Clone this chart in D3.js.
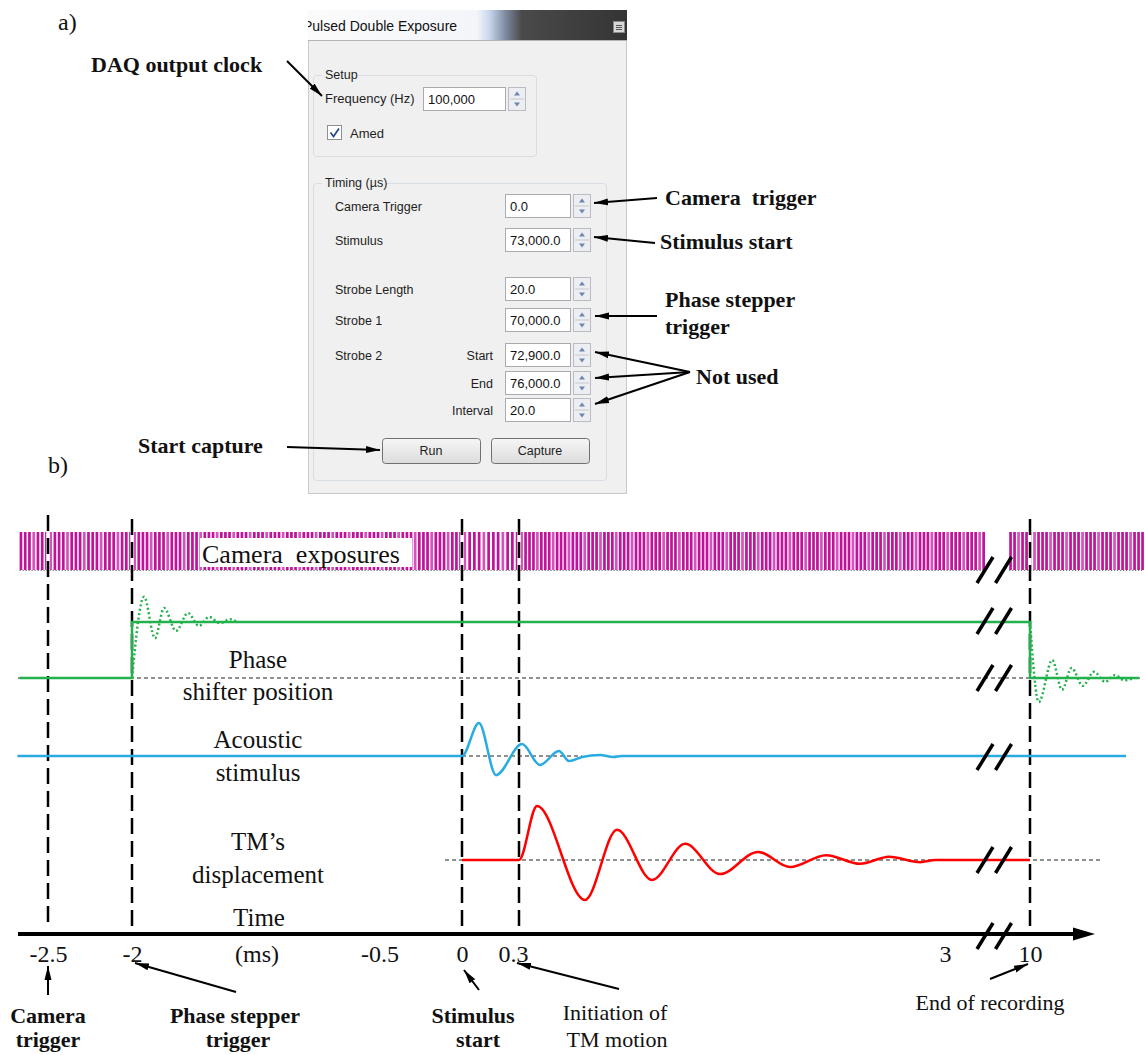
<!DOCTYPE html>
<html><head><meta charset="utf-8">
<script src="https://cdn.jsdelivr.net/npm/d3@7"></script>
<style>body{margin:0;background:#fff} svg{display:block}</style>
</head><body><svg id="c" width="1145" height="1055"></svg>
<script>
// ---------------- data ----------------
const tickValues = [-2.5, -2, -0.5, 0, 0.3, 3, 10];
const eventTimes = [-2.5, -2, 0, 0.3, 10];
const cameraSegments = [[-2.667, 3.24], [9.87, 10.71]];
const exposureInterval = 0.025;
const phaseStep = [[-2.667,0],[-2,0],[-2,1],[10,1],[10,0],[10.68,0]];
const phaseRingUp = [[-2,0],[-1.927,1.45],[-1.861,0.71],[-1.806,1.25],[-1.733,0.84],[-1.661,1.16],[-1.594,0.93],[-1.533,1.09],[-1.467,0.98],[-1.406,1.05],[-1.364,1.0]];
const phaseRingDown = [[10,1],[10.055,-0.43],[10.139,0.32],[10.2,-0.21],[10.26,0.18],[10.33,-0.14],[10.4,0.11],[10.47,-0.07],[10.53,0.05],[10.59,-0.04],[10.65,0]];
const acousticWave = [[-2.68,0],[0,0],[0.089,1.0],[0.179,-0.58],[0.319,0.36],[0.433,-0.27],[0.553,0.15],[0.617,-0.15],[0.7,-0.03],[0.814,0.03],[0.897,-0.03],[0.95,0],[10.6,0]];
const tmWave = [[0,0],[0.3,0],[0.414,1.0],[0.718,-0.74],[0.921,0.56],[1.143,-0.37],[1.353,0.30],[1.574,-0.26],[1.815,0.15],[2.018,-0.13],[2.246,0.09],[2.462,-0.07],[2.646,0.06],[2.843,-0.04],[2.938,0],[10,0]];
const dialogTitle = "Pulsed Double Exposure";
const setupFrequency = "100,000";
const dialogFields = [
  {label:"Camera Trigger", sub:"", value:"0.0"},
  {label:"Stimulus", sub:"", value:"73,000.0"},
  {label:"Strobe Length", sub:"", value:"20.0"},
  {label:"Strobe 1", sub:"", value:"70,000.0"},
  {label:"Strobe 2", sub:"Start", value:"72,900.0"},
  {label:"", sub:"End", value:"76,000.0"},
  {label:"", sub:"Interval", value:"20.0"}
];

// ---------------- setup ----------------
const svg = d3.select("#c");
const serif = "'Liberation Serif','Times New Roman',serif";
const sans = "'Liberation Sans',Arial,sans-serif";
const defs = svg.append("defs");

const x = d3.scaleLinear()
  .domain([-2.7,-2.5,-2,0,0.3,3,3.25,9.85,10,10.8])
  .range([14,48,132,462,519,945,985,1006,1030,1158]);
const yPhase = d3.scaleLinear().domain([0,1]).range([678,622]);
const yAc = d3.scaleLinear().domain([0,1]).range([756,723]);
const yTM = d3.scaleLinear().domain([0,1]).range([860,806]);

const mk = defs.append("marker").attr("id","ah").attr("viewBox","0 0 14 8")
  .attr("refX",14).attr("refY",4).attr("markerWidth",14).attr("markerHeight",8)
  .attr("markerUnits","userSpaceOnUse").attr("orient","auto");
mk.append("path").attr("d","M0,0.5 L14,4 L0,7.5 Z").attr("fill","#000");

function arrow(x1,y1,x2,y2){
  svg.append("line").attr("x1",x1).attr("y1",y1).attr("x2",x2).attr("y2",y2)
    .attr("stroke","#000").attr("stroke-width",2).attr("marker-end","url(#ah)");
}
function txt(t,xx,yy,size,opts={}){
  return svg.append("text").attr("x",xx).attr("y",yy).text(t)
    .attr("font-family",opts.family||serif).attr("font-size",size)
    .attr("font-weight",opts.bold?"bold":"normal")
    .attr("text-anchor",opts.anchor||"start").attr("fill",opts.fill||"#111")
    .style("white-space","pre");
}

// ---------------- panel a) dialog ----------------
const tg = defs.append("linearGradient").attr("id","tg").attr("gradientUnits","userSpaceOnUse")
  .attr("x1",308).attr("x2",627).attr("y1",0).attr("y2",0);
[[0,"#fbfbfb"],[0.53,"#f3f5f9"],[0.57,"#c6d5ec"],[0.62,"#7c889e"],[0.67,"#4a4a4a"],[1,"#343434"]]
  .forEach(s=>tg.append("stop").attr("offset",s[0]).attr("stop-color",s[1]));
const bg = defs.append("linearGradient").attr("id","bg").attr("x1",0).attr("x2",0).attr("y1",0).attr("y2",1);
bg.append("stop").attr("offset",0).attr("stop-color","#f6f6f6");
bg.append("stop").attr("offset",1).attr("stop-color","#dcdcdc");
defs.append("clipPath").attr("id","dclip").append("rect").attr("x",308).attr("y",8).attr("width",320).attr("height",490);

const dlg = svg.append("g").attr("clip-path","url(#dclip)");
dlg.append("rect").attr("x",308.5).attr("y",10.5).attr("width",318).attr("height",483).attr("fill","#f0f0f0").attr("stroke","#c9c9c9");
dlg.append("rect").attr("x",300).attr("y",10).attr("width",327).attr("height",30).attr("fill","url(#tg)");
dlg.append("line").attr("x1",308).attr("x2",627).attr("y1",40.5).attr("y2",40.5).attr("stroke","#b5b5b5");
dlg.append("text").attr("x",303).attr("y",31).text(dialogTitle).attr("font-family",sans).attr("font-size",14).attr("fill","#111");
dlg.append("rect").attr("x",613.5).attr("y",21.5).attr("width",11).attr("height",11).attr("fill","#d8d8d8").attr("stroke","#8a8a8a");
[25,27,29].forEach(yy=>dlg.append("line").attr("x1",616).attr("x2",622).attr("y1",yy+0.5).attr("y2",yy+0.5).attr("stroke","#555"));

function group(gx,gy,gw,gh,label,lw){
  dlg.append("rect").attr("x",gx+0.5).attr("y",gy+0.5).attr("width",gw).attr("height",gh).attr("rx",3)
    .attr("fill","none").attr("stroke","#d6dde3");
  dlg.append("rect").attr("x",gx+9).attr("y",gy-8).attr("width",lw).attr("height",14).attr("fill","#f0f0f0");
  dlg.append("text").attr("x",gx+12).attr("y",gy+4).text(label).attr("font-family",sans).attr("font-size",12.5).attr("fill","#1e1e1e");
}
function inputBox(ix,iy,iw,ih,val){
  dlg.append("rect").attr("x",ix+0.5).attr("y",iy+0.5).attr("width",iw).attr("height",ih).attr("fill","#fff").attr("stroke","#a9abb1");
  dlg.append("text").attr("x",ix+5).attr("y",iy+ih-6).text(val).attr("font-family",sans).attr("font-size",13).attr("fill","#111");
  const sx = ix+iw+3;
  dlg.append("rect").attr("x",sx+0.5).attr("y",iy+0.5).attr("width",17).attr("height",ih).attr("fill","#eceef1").attr("stroke","#b9bcc2");
  dlg.append("line").attr("x1",sx+2).attr("x2",sx+16).attr("y1",iy+ih/2+0.5).attr("y2",iy+ih/2+0.5).attr("stroke","#c5c8cd");
  dlg.append("path").attr("d",`M${sx+6},${iy+ih/2-3} L${sx+9},${iy+ih/2-7} L${sx+12},${iy+ih/2-3}Z`).attr("fill","#6d86ad");
  dlg.append("path").attr("d",`M${sx+6},${iy+ih/2+4} L${sx+9},${iy+ih/2+8} L${sx+12},${iy+ih/2+4}Z`).attr("fill","#6d86ad");
}
group(313,75,223,81,"Setup",36);
dlg.append("text").attr("x",325).attr("y",103).text("Frequency (Hz)").attr("font-family",sans).attr("font-size",13).attr("fill","#1e1e1e");
inputBox(423,87,82,23,setupFrequency);
dlg.append("rect").attr("x",327.5).attr("y",125.5).attr("width",14).attr("height",14).attr("fill","#fff").attr("stroke","#8e8f8f");
dlg.append("path").attr("d","M330.5,132.5 L333.5,136.5 L339,128.5").attr("fill","none").attr("stroke","#27478c").attr("stroke-width",1.7);
dlg.append("text").attr("x",350).attr("y",138).text("Amed").attr("font-family",sans).attr("font-size",13).attr("fill","#1e1e1e");

group(313,183,293,297,"Timing (\u00b5s)",64);
const rowTop = [194,228,277,308,343,371,398];
dialogFields.forEach((f,i)=>{
  const t = rowTop[i];
  if(f.label) dlg.append("text").attr("x",335).attr("y",t+17).text(f.label).attr("font-family",sans).attr("font-size",12.5).attr("fill","#1e1e1e");
  if(f.sub) dlg.append("text").attr("x",493).attr("y",t+17).attr("text-anchor","end").text(f.sub).attr("font-family",sans).attr("font-size",12.5).attr("fill","#1e1e1e");
  inputBox(505,t,65,23,f.value);
});
[["Run",382],["Capture",491]].forEach(b=>{
  dlg.append("rect").attr("x",b[1]+0.5).attr("y",438.5).attr("width",98).attr("height",25).attr("rx",3)
    .attr("fill","url(#bg)").attr("stroke","#707070");
  dlg.append("text").attr("x",b[1]+49).attr("y",455).attr("text-anchor","middle").text(b[0])
    .attr("font-family",sans).attr("font-size",12.5).attr("fill","#1e1e1e");
});

// labels and arrows a)
txt("a)",58,30,24);
txt("b)",48,473,24);
txt("DAQ output clock",91,72,22,{bold:true});
arrow(287,61,322,96);
txt("Camera  trigger",665,205,22,{bold:true});
arrow(657,198,594,203);
txt("Stimulus start",660,249,22,{bold:true});
arrow(655,243,594,237);
txt("Phase stepper",665,307,22,{bold:true});
txt("trigger",665,334,22,{bold:true});
arrow(657,316,595,316);
txt("Not used",696,384,22,{bold:true});
arrow(690,372,595,352);
arrow(690,372,595,378);
arrow(690,372,595,404);
txt("Start capture",138,453,22,{bold:true});
arrow(287,447,380,450);

// ---------------- panel b) timing diagram ----------------
const exposures = cameraSegments.flatMap(s => d3.range(s[0], s[1], exposureInterval));
svg.append("g").selectAll("rect").data(exposures).join("rect")
  .attr("x",d=>x(d)).attr("y",532).attr("width",2.7).attr("height",38)
  .attr("fill",(d,i)=> i%4===3 ? "#d653bd" : "#c0139a");
[[x(-2.667),x(3.24)],[x(9.87),x(10.71)]].forEach(r=>
  svg.append("line").attr("x1",r[0]).attr("x2",r[1]).attr("y1",570.5).attr("y2",570.5)
    .attr("stroke","#555").attr("stroke-dasharray","1,2"));
svg.append("rect").attr("x",200).attr("y",538).attr("width",212).attr("height",29).attr("fill","#fff");
txt("Camera  exposures",202,563,26);

// dashed event lines
eventTimes.forEach(t=>{
  svg.append("line").attr("x1",x(t)).attr("x2",x(t)).attr("y1",532).attr("y2",570).attr("stroke","#fff").attr("stroke-width",3.5);
  svg.append("line").attr("x1",x(t)).attr("x2",x(t)).attr("y1",t===-2.5?515:519).attr("y2",926)
    .attr("stroke","#000").attr("stroke-width",2.5).attr("stroke-dasharray","16,7");
});

// baselines
svg.append("line").attr("x1",18).attr("x2",1140).attr("y1",yPhase(0)).attr("y2",yPhase(0)).attr("stroke","#222").attr("stroke-width",1.2).attr("stroke-dasharray","4,3");
svg.append("line").attr("x1",x(0)).attr("x2",582).attr("y1",yAc(0)).attr("y2",yAc(0)).attr("stroke","#222").attr("stroke-width",1.2).attr("stroke-dasharray","4,3");
svg.append("line").attr("x1",445).attr("x2",1100).attr("y1",yTM(0)).attr("y2",yTM(0)).attr("stroke","#222").attr("stroke-width",1.2).attr("stroke-dasharray","4,3");

const green = "#22b14c";
svg.append("path").datum(phaseStep).attr("d",d3.line().x(d=>x(d[0])).y(d=>yPhase(d[1])))
  .attr("fill","none").attr("stroke",green).attr("stroke-width",2.5);
[phaseRingUp,phaseRingDown].forEach(r=>
  svg.append("path").datum(r).attr("d",d3.line().x(d=>x(d[0])).y(d=>yPhase(d[1])).curve(d3.curveMonotoneX))
    .attr("fill","none").attr("stroke",green).attr("stroke-width",2.5).attr("stroke-dasharray","2,2.5"));
svg.append("path").datum(acousticWave).attr("d",d3.line().x(d=>x(d[0])).y(d=>yAc(d[1])).curve(d3.curveMonotoneX))
  .attr("fill","none").attr("stroke","#29abe2").attr("stroke-width",2.5);
svg.append("path").datum(tmWave).attr("d",d3.line().x(d=>x(d[0])).y(d=>yTM(d[1])).curve(d3.curveMonotoneX))
  .attr("fill","none").attr("stroke","#ff0000").attr("stroke-width",2.5);

// row labels
txt("Phase",258,668,25,{anchor:"middle"});
txt("shifter position",258,700,25,{anchor:"middle"});
txt("Acoustic",258,748,25,{anchor:"middle"});
txt("stimulus",258,781,25,{anchor:"middle"});
txt("TM\u2019s",258,850,25,{anchor:"middle"});
txt("displacement",258,883,25,{anchor:"middle"});
txt("Time",259,926,25,{anchor:"middle"});

// time axis
svg.append("line").attr("x1",18).attr("x2",1078).attr("y1",934).attr("y2",934).attr("stroke","#000").attr("stroke-width",4);
svg.append("path").attr("d","M1073,927.5 L1095,934 L1073,940.5 Z").attr("fill","#000");
const axis = d3.axisBottom(x).tickValues(tickValues).tickSize(0).tickPadding(11).tickFormat(d=>String(d));
const ga = svg.append("g").attr("transform","translate(0,934)").call(axis);
ga.select(".domain").remove();
ga.selectAll("text").attr("font-family",serif).attr("font-size",24).attr("fill","#111")
  .attr("dx",d=> d===0.3 ? -6 : 0);
txt("(ms)",257,962,24,{anchor:"middle"});

// break marks
const breakRowsY = [570, 621, 678, 757, 860, 936];
const breakXs = [x(3.25), x(9.85)-2.5];
breakRowsY.forEach(cy=>breakXs.forEach(cx=>
  svg.append("line").attr("x1",cx-8).attr("y1",cy+13).attr("x2",cx+8).attr("y2",cy-13)
    .attr("stroke","#000").attr("stroke-width",3.5)));

// bottom annotations
txt("Camera",48,1023,22,{bold:true,anchor:"middle"});
txt("trigger",48,1047,22,{bold:true,anchor:"middle"});
arrow(x(-2.5),995,x(-2.5),966);
txt("Phase stepper",235,1023,22,{bold:true,anchor:"middle"});
txt("trigger",238,1047,22,{bold:true,anchor:"middle"});
arrow(236,992,x(-2)+3,963);
txt("Stimulus",473,1023,22,{bold:true,anchor:"middle"});
txt("start",478,1047,22,{bold:true,anchor:"middle"});
arrow(479,990,x(0)+2,970);
txt("Initiation of",615,1020,22,{anchor:"middle"});
txt("TM motion",617,1047,22,{anchor:"middle"});
arrow(619,989,x(0.3)-2,963);
txt("End of recording",990,1010,22,{anchor:"middle"});
arrow(990,979,x(10)-2,964);
</script></body></html>
